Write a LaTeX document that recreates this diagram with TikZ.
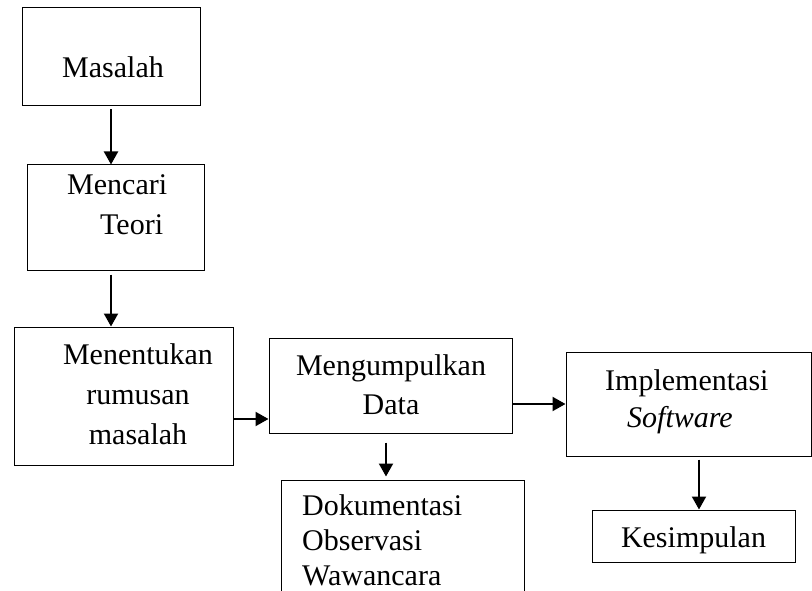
\documentclass[tikz,border=0pt]{standalone}
\usepackage{fontspec}
\setmainfont{Liberation Serif}
\usetikzlibrary{arrows.meta}

\begin{document}
\begin{tikzpicture}[x=1pt,y=-1pt,
    blok/.style={draw,line width=1pt,inner sep=0pt},
    teks/.style={font=\fontsize{30}{#1}\selectfont,inner sep=0pt},
    teks/.default=39,
    panah/.style={-{Triangle[width=14pt,length=13pt]},line width=2.1pt}]
  % \helpgrid
  \clip (0,0) rectangle (812,591);
  % kotak
  \node[blok,minimum width=178pt,minimum height=98pt] (masalah) at (111,57) {};
  \node[blok,minimum width=177pt,minimum height=105pt] (teori) at (115.5,217.5) {};
  \node[blok,minimum width=219pt,minimum height=138pt] (rumusan) at (123.5,396) {};
  \node[blok,minimum width=243pt,minimum height=95pt] (data) at (390.5,385.5) {};
  \node[blok,minimum width=243pt,minimum height=140pt] (dok) at (402.5,550) {};
  \node[blok,minimum width=245pt,minimum height=104pt] (impl) at (688.5,404) {};
  \node[blok,minimum width=203pt,minimum height=52pt] (simpul) at (693.5,536) {};
  % teks (base = baris terakhir)
  \node[teks,anchor=base west] (tMasalah) at (62,78) {Masalah};
  \node[teks=40,anchor=base west,align=left] (tTeori) at (67,235) {Mencari\\\hspace*{33pt}Teori};
  \node[teks=40,anchor=base,align=center] (tRumusan) at (138,444) {Menentukan\\rumusan\\masalah};
  \node[teks,anchor=base,align=center] (tData) at (391,414) {Mengumpulkan\\Data};
  \node[teks=35,anchor=base west,align=left] (tDok) at (302,585) {Dokumentasi\\Observasi\\Wawancara};
  \node[teks=37,anchor=base west,align=left] (tImpl) at (605,427) {Implementasi\\\hspace*{22pt}\textit{Software}};
  \node[teks,anchor=base] (tSimpul) at (693.5,547) {Kesimpulan};
  % panah
  \draw[panah,shorten <=3pt] (masalah.south) -- (masalah.south |- teori.north);
  \draw[panah,shorten <=4pt] (teori.south -| masalah.south) -- (masalah.south |- rumusan.north);
  \draw[panah] ([yshift=-23pt]rumusan.east) -- ([yshift=-23pt]rumusan.east -| data.west);
  \draw[panah,shorten <=9pt,shorten >=3pt] ([xshift=-4.5pt]data.south) -- ([xshift=-4.5pt]data.south |- dok.north);
  \draw[panah] (data.east |- impl.west) -- (impl.west);
  \draw[panah,shorten <=3pt] ([xshift=10.5pt]impl.south) -- ([xshift=10.5pt]impl.south |- simpul.north);
\end{tikzpicture}
\end{document}
